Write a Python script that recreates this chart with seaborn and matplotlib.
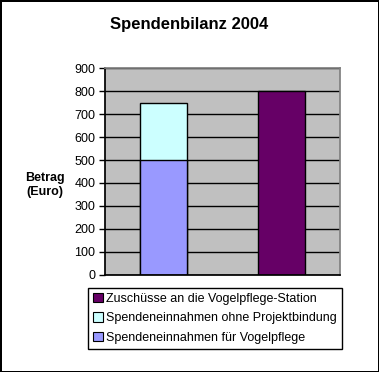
import numpy as np
import seaborn as sns
from matplotlib import pyplot as plt
from matplotlib.patches import Patch

categories = ["Spenden", "Zuschüsse"]
vogelpflege = np.array([500, 0])
ohne_bindung = np.array([250, 0])
zuschuesse = np.array([0, 800])
labels = ["Zuschüsse an die Vogelpflege-Station",
          "Spendeneinnahmen ohne Projektbindung",
          "Spendeneinnahmen für Vogelpflege"]
colors = ["#660066", "#CCFFFF", "#9999FF"]

sns.set_theme(style="white")
plt.rcParams['font.family'] = ['Liberation Sans', 'DejaVu Sans']
plt.rcParams.update({'text.color': 'black', 'axes.labelcolor': 'black',
                     'ytick.color': 'black', 'xtick.color': 'black'})

fig = plt.figure(figsize=(3.79, 3.72), dpi=100)
fig.patch.set_edgecolor('black')
fig.patch.set_linewidth(2)
ax = fig.add_axes([0.277, 0.261, 0.620, 0.556])
ax.set_facecolor('#C0C0C0')

# stacked bar: total first, then the lower part on top of it
sns.barplot(x=categories, y=vogelpflege + ohne_bindung, color=colors[1],
            width=0.4, edgecolor='black', linewidth=1, saturation=1, ax=ax)
sns.barplot(x=categories, y=vogelpflege, color=colors[2],
            width=0.4, edgecolor='black', linewidth=1, saturation=1, ax=ax)
sns.barplot(x=categories, y=zuschuesse, color=colors[0],
            width=0.4, edgecolor='black', linewidth=1, saturation=1, ax=ax)

ax.set_ylim(0, 900)
ax.set_xlim(-0.5, 1.5)
ax.set_yticks(range(0, 901, 100))
ax.set_xticks([])
ax.yaxis.grid(True, color='black', linewidth=1)
ax.set_axisbelow(True)
ax.tick_params(axis='y', left=True, length=4, width=1, color='black',
               labelsize=9, pad=3)
for side in ['top', 'right']:
    ax.spines[side].set_color('#808080')
for side in ['left', 'bottom']:
    ax.spines[side].set_color('black')
ax.set_xlabel('')
ax.set_ylabel('Betrag\n(Euro)', rotation=0, fontsize=9, fontweight='bold',
              labelpad=0, va='center', ha='center')
ax.yaxis.set_label_coords(-0.255, 0.435)

fig.text(0.5, 0.935, 'Spendenbilanz 2004', ha='center', va='center',
         fontsize=12, fontweight='bold')

handles = [Patch(facecolor=c, edgecolor='black', linewidth=0.8) for c in colors]
leg = fig.legend(handles, labels, loc='upper left',
                 bbox_to_anchor=(0.232, 0.226), fontsize=9, frameon=True,
                 fancybox=False, edgecolor='black', framealpha=1,
                 handlelength=0.8, handleheight=0.8, handletextpad=0.25,
                 labelspacing=0.58, borderpad=0.4, borderaxespad=0)
leg.get_frame().set_linewidth(1)

fig.savefig('out.png', dpi=100, edgecolor=fig.get_edgecolor())
